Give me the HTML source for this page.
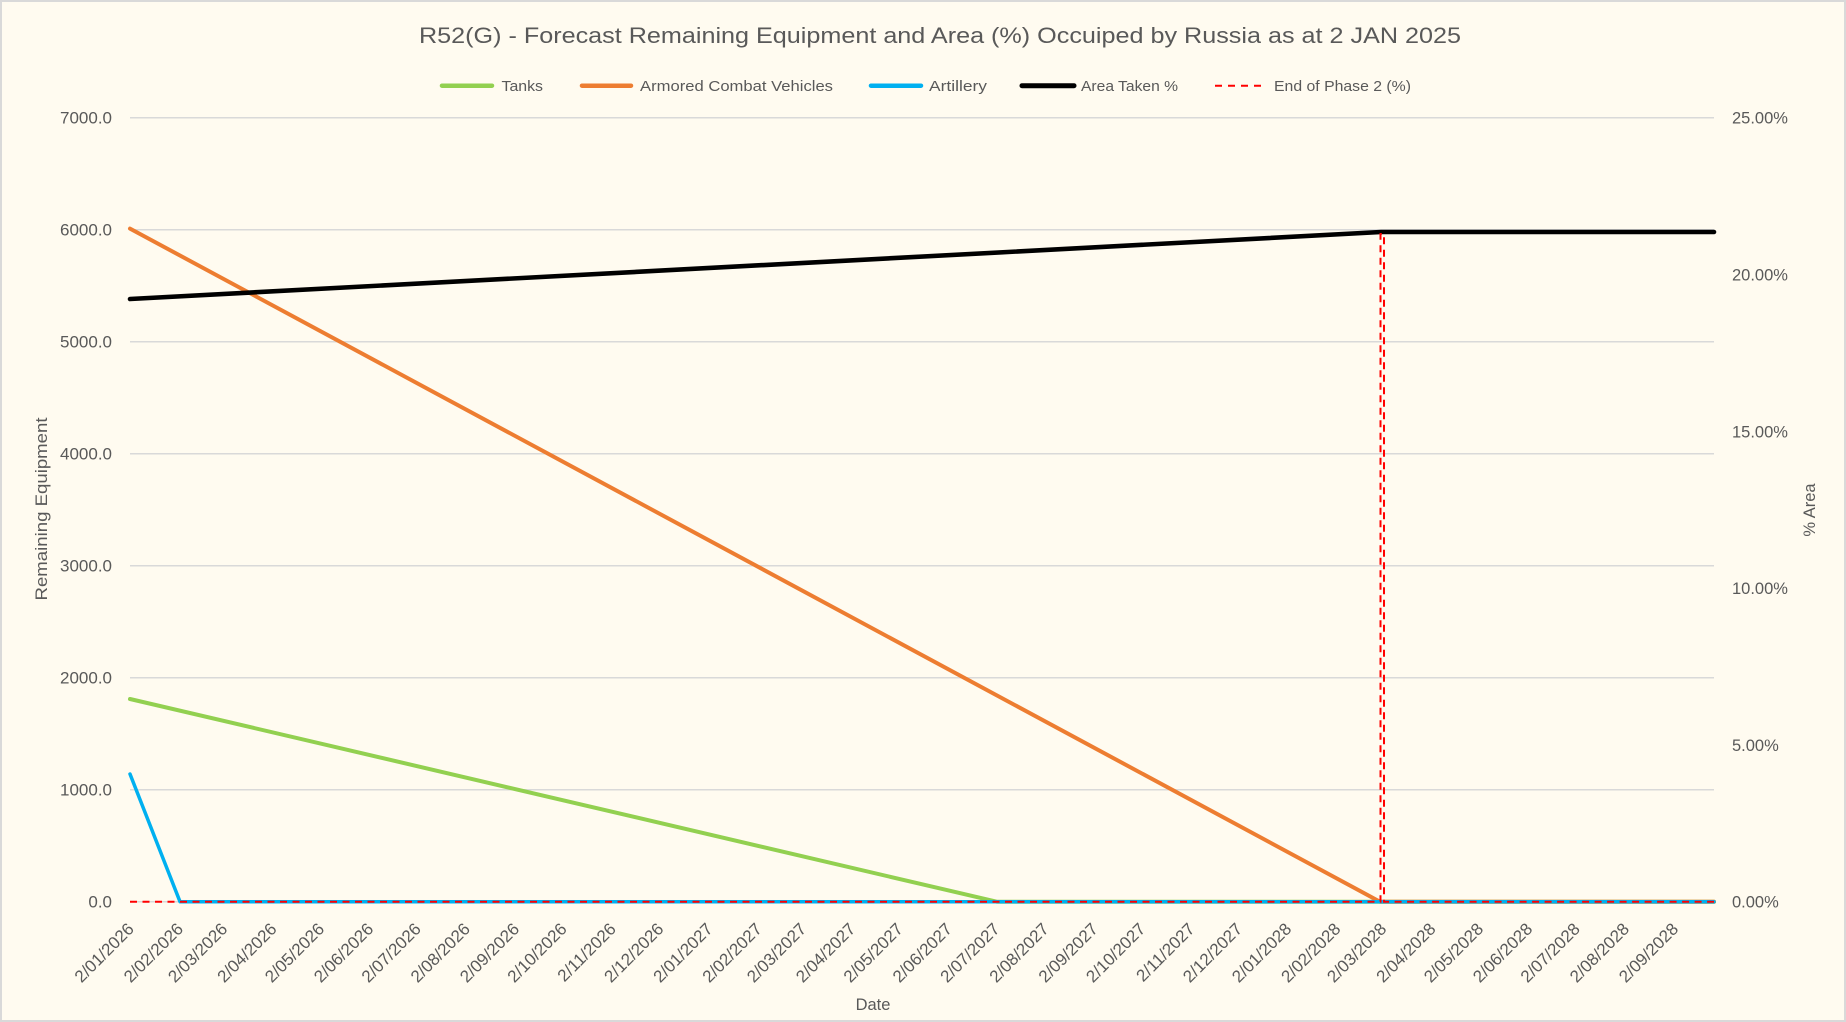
<!DOCTYPE html>
<html>
<head>
<meta charset="utf-8">
<style>
  html,body{margin:0;padding:0;background:#FFFBF0;}
  body{width:1846px;height:1022px;overflow:hidden;}
  svg{display:block;}
  text{font-family:"Liberation Sans",Arial,sans-serif;fill:#595959;}
</style>
</head>
<body>
<svg width="1846" height="1022" viewBox="0 0 1846 1022" xmlns="http://www.w3.org/2000/svg">
  <rect x="1" y="1" width="1844" height="1020" fill="#FFFBF0" stroke="#D9D9D9" stroke-width="2"/>

  <!-- Title -->
  <text x="419" y="43" font-size="22" textLength="1042" lengthAdjust="spacingAndGlyphs">R52(G) - Forecast Remaining Equipment and Area (%) Occuiped by Russia as at 2 JAN 2025</text>

  <!-- Legend -->
  <g stroke-linecap="round" stroke-width="4.5" fill="none">
    <line x1="442" y1="85.7" x2="492" y2="85.7" stroke="#92D050"/>
    <line x1="582" y1="85.7" x2="631" y2="85.7" stroke="#ED7D31"/>
    <line x1="871" y1="85.7" x2="921" y2="85.7" stroke="#00B0F0"/>
    <line x1="1022" y1="85.7" x2="1074" y2="85.7" stroke="#000000" stroke-width="5"/>
  </g>
  <line x1="1215" y1="85.7" x2="1264" y2="85.7" stroke="#FF0000" stroke-width="2" stroke-dasharray="7 6"/>
  <g font-size="15">
    <text x="501.5" y="91" textLength="41.5" lengthAdjust="spacingAndGlyphs">Tanks</text>
    <text x="640" y="91" textLength="193" lengthAdjust="spacingAndGlyphs">Armored Combat Vehicles</text>
    <text x="929" y="91" textLength="58" lengthAdjust="spacingAndGlyphs">Artillery</text>
    <text x="1081" y="91" textLength="97" lengthAdjust="spacingAndGlyphs">Area Taken %</text>
    <text x="1274" y="91" textLength="137" lengthAdjust="spacingAndGlyphs">End of Phase 2 (%)</text>
  </g>

  <!-- Gridlines -->
  <g stroke="#D9D9D9" stroke-width="1.5">
    <line x1="130" y1="117.7" x2="1714" y2="117.7"/>
    <line x1="130" y1="229.7" x2="1714" y2="229.7"/>
    <line x1="130" y1="341.7" x2="1714" y2="341.7"/>
    <line x1="130" y1="453.7" x2="1714" y2="453.7"/>
    <line x1="130" y1="565.7" x2="1714" y2="565.7"/>
    <line x1="130" y1="677.7" x2="1714" y2="677.7"/>
    <line x1="130" y1="789.7" x2="1714" y2="789.7"/>
    <line x1="130" y1="901.7" x2="1714" y2="901.7"/>
  </g>

  <!-- Left axis labels -->
  <g font-size="17" text-anchor="end">
    <text x="112" y="123.7">7000.0</text>
    <text x="112" y="235.7">6000.0</text>
    <text x="112" y="347.7">5000.0</text>
    <text x="112" y="459.7">4000.0</text>
    <text x="112" y="571.7">3000.0</text>
    <text x="112" y="683.7">2000.0</text>
    <text x="112" y="795.7">1000.0</text>
    <text x="112" y="907.7">0.0</text>
  </g>

  <!-- Right axis labels -->
  <g font-size="16.5">
    <text x="1732" y="123.7">25.00%</text>
    <text x="1732" y="280.5">20.00%</text>
    <text x="1732" y="437.3">15.00%</text>
    <text x="1732" y="594.1">10.00%</text>
    <text x="1732" y="750.9">5.00%</text>
    <text x="1732" y="907.7">0.00%</text>
  </g>

  <!-- Axis titles -->
  <text font-size="16.5" text-anchor="middle" transform="translate(47,509) rotate(-90)" textLength="183" lengthAdjust="spacingAndGlyphs">Remaining Equipment</text>
  <text font-size="16.5" text-anchor="middle" transform="translate(1815,510) rotate(-90)">% Area</text>
  <text font-size="16.5" text-anchor="middle" x="873" y="1010">Date</text>

  <!-- Date labels -->
  <g font-size="17" text-anchor="end">
    <text transform="translate(135,930) rotate(-45)">2/01/2026</text>
    <text transform="translate(184.2,930) rotate(-45)">2/02/2026</text>
    <text transform="translate(228.5,930) rotate(-45)">2/03/2026</text>
    <text transform="translate(277.7,930) rotate(-45)">2/04/2026</text>
    <text transform="translate(325.3,930) rotate(-45)">2/05/2026</text>
    <text transform="translate(374.4,930) rotate(-45)">2/06/2026</text>
    <text transform="translate(422,930) rotate(-45)">2/07/2026</text>
    <text transform="translate(471.1,930) rotate(-45)">2/08/2026</text>
    <text transform="translate(520.3,930) rotate(-45)">2/09/2026</text>
    <text transform="translate(567.8,930) rotate(-45)">2/10/2026</text>
    <text transform="translate(617,930) rotate(-45)">2/11/2026</text>
    <text transform="translate(664.6,930) rotate(-45)">2/12/2026</text>
    <text transform="translate(713.7,930) rotate(-45)">2/01/2027</text>
    <text transform="translate(762.9,930) rotate(-45)">2/02/2027</text>
    <text transform="translate(807.3,930) rotate(-45)">2/03/2027</text>
    <text transform="translate(856.4,930) rotate(-45)">2/04/2027</text>
    <text transform="translate(904,930) rotate(-45)">2/05/2027</text>
    <text transform="translate(953.1,930) rotate(-45)">2/06/2027</text>
    <text transform="translate(1000.7,930) rotate(-45)">2/07/2027</text>
    <text transform="translate(1049.8,930) rotate(-45)">2/08/2027</text>
    <text transform="translate(1099,930) rotate(-45)">2/09/2027</text>
    <text transform="translate(1146.5,930) rotate(-45)">2/10/2027</text>
    <text transform="translate(1195.7,930) rotate(-45)">2/11/2027</text>
    <text transform="translate(1243.3,930) rotate(-45)">2/12/2027</text>
    <text transform="translate(1292.4,930) rotate(-45)">2/01/2028</text>
    <text transform="translate(1341.6,930) rotate(-45)">2/02/2028</text>
    <text transform="translate(1387.5,930) rotate(-45)">2/03/2028</text>
    <text transform="translate(1436.7,930) rotate(-45)">2/04/2028</text>
    <text transform="translate(1484.3,930) rotate(-45)">2/05/2028</text>
    <text transform="translate(1533.4,930) rotate(-45)">2/06/2028</text>
    <text transform="translate(1581,930) rotate(-45)">2/07/2028</text>
    <text transform="translate(1630.2,930) rotate(-45)">2/08/2028</text>
    <text transform="translate(1679.3,930) rotate(-45)">2/09/2028</text>
  </g>

  <!-- Series -->
  <g fill="none" stroke-linejoin="round" stroke-linecap="round">
    <polyline points="130,699 996.7,901.7 1714,901.7" stroke="#92D050" stroke-width="4"/>
    <polyline points="130,228.6 1380,901.7 1714,901.7" stroke="#ED7D31" stroke-width="4"/>
    <polyline points="130,774 180,901.7 1714,901.7" stroke="#00B0F0" stroke-width="3.5"/>
    <polyline points="130,299 1381,232 1714,232" stroke="#000000" stroke-width="4.6"/>
  </g>
  <polyline points="130,901.7 1380.5,901.7 1380.5,234 1384,234 1384,901.7 1714,901.7" fill="none" stroke="#FF0000" stroke-width="2" stroke-dasharray="7 5.5" stroke-linejoin="miter"/>
</svg>
</body>
</html>
